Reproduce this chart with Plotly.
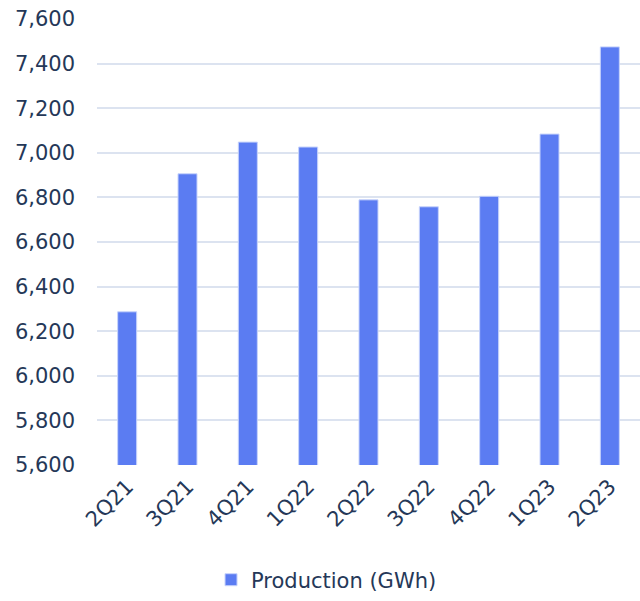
import plotly.graph_objects as go

quarters = ["2Q21", "3Q21", "4Q21", "1Q22", "2Q22", "3Q22", "4Q22", "1Q23", "2Q23"]
production = [6287, 6906, 7048, 7026, 6789, 6758, 6805, 7084, 7475]
y_ticks = [5600, 5800, 6000, 6200, 6400, 6600, 6800, 7000, 7200, 7400, 7600]

text_color = "#253858"
grid_color = "#dce3f0"
font_family = "DejaVu Sans, sans-serif"

fig = go.Figure()
fig.add_trace(go.Bar(
    x=quarters, y=production, name="Production (GWh)",
    marker=dict(color="#5b7cf2", line=dict(color="#c7d3fb", width=1)),
    showlegend=True,
))
fig.update_layout(
    width=640, height=601,
    margin=dict(l=97, r=0, t=19, b=136),
    paper_bgcolor="white", plot_bgcolor="white",
    font=dict(family=font_family, size=20, color=text_color),
    bargap=0.685,
    xaxis=dict(tickangle=-45, showgrid=False, showline=False, ticks="",
               ticklabelstandoff=4,
               tickfont=dict(size=21, color=text_color)),
    yaxis=dict(range=[5600, 7600], tickvals=y_ticks, tickformat=",d",
               showgrid=True, gridcolor=grid_color, gridwidth=2,
               zeroline=False, showline=False, ticks="", ticklabelstandoff=21,
               tickfont=dict(size=21, color=text_color)),
    legend=dict(orientation="h", x=0.21, xanchor="left", y=-0.258, yanchor="middle",
                font=dict(size=21, color=text_color), itemwidth=30),
)
fig.write_html("out.html")
